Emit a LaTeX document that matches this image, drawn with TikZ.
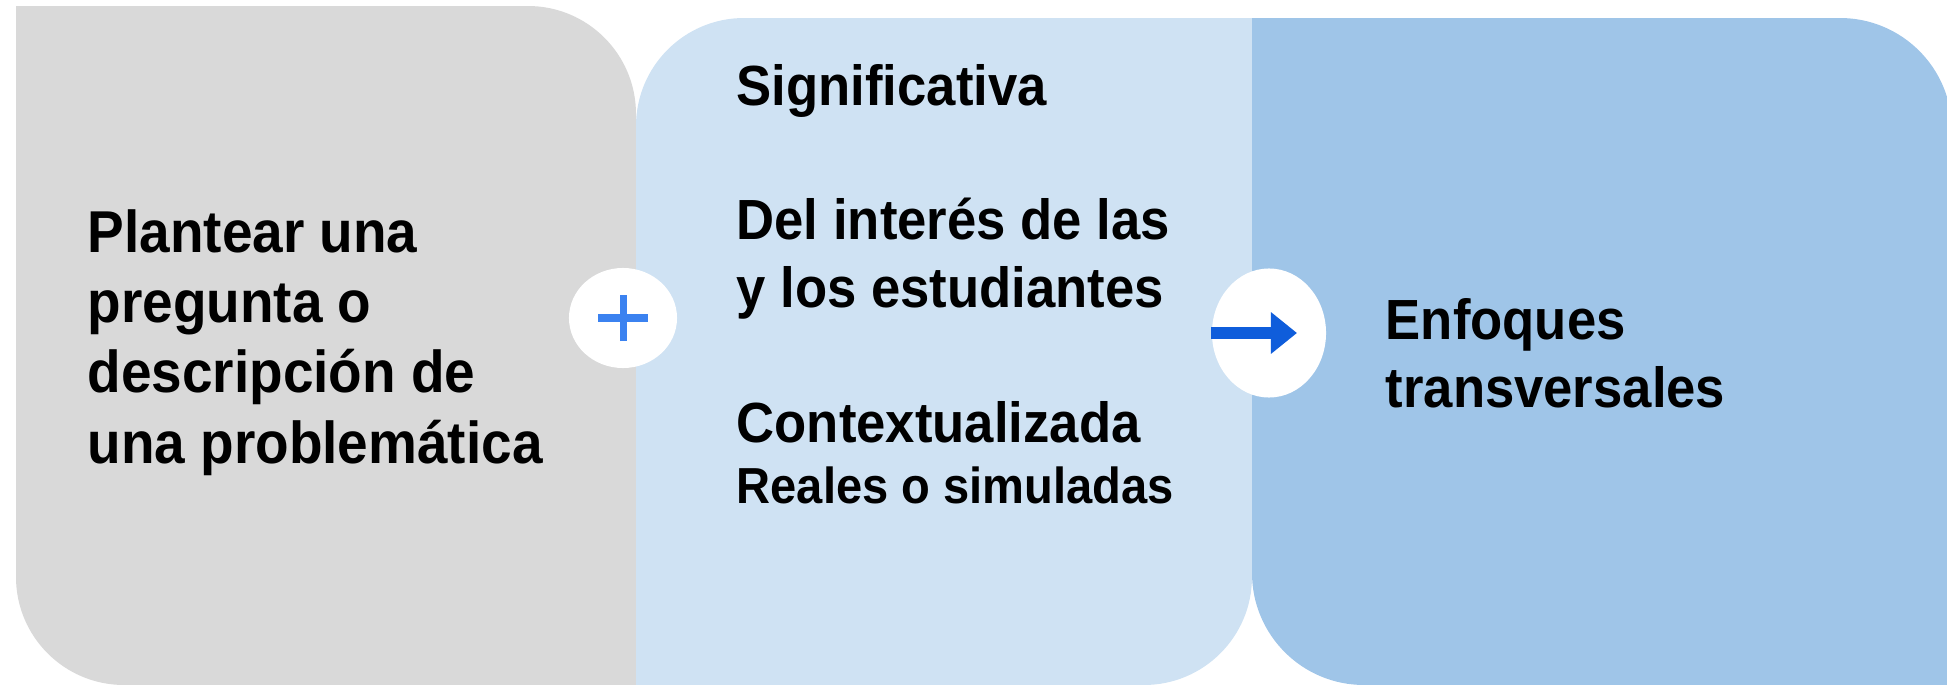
\documentclass[tikz,border=0pt]{standalone}
\usepackage{fontspec}
\setmainfont{Liberation Sans}[FakeStretch=0.93]
\usetikzlibrary{shapes.geometric,arrows.meta,calc}

\definecolor{boxgray}{HTML}{D9D9D9}
\definecolor{boxlight}{HTML}{CFE2F3}
\definecolor{boxdark}{HTML}{9FC5E8}
\definecolor{plusblue}{HTML}{3B82F0}
\definecolor{arrowblue}{HTML}{0F5DDB}

\begin{document}
\begin{tikzpicture}[x=0.01cm, y=0.01cm,
  every node/.style={inner sep=0pt},
  itemtext/.style={anchor=base west, align=left, font=\bfseries\fontsize{16.1}{19.1}\selectfont},
  bigtext/.style={itemtext, font=\bfseries\fontsize{16.8}{20}\selectfont},
  smalltext/.style={itemtext, font=\bfseries\fontsize{14.4}{17}\selectfont},
  badge/.style={ellipse, fill=white, draw=none},
  plusline/.style={plusblue, line width=0.07cm},
  arrowline/.style={arrowblue, line width=0.12cm, -{Triangle[length=0.26cm, width=0.4cm]}}]

\useasboundingbox (0,0) rectangle (1947,684);
\clip (0,0) rectangle (1947,684);

% Three panels
\fill[boxgray] (16,678) -- (528,678) arc[start angle=90, end angle=0, radius=108]
  -- (636,-1) -- (124,-1) arc[start angle=270, end angle=180, radius=108] -- cycle;
\fill[boxlight] (636,-1) -- (636,558) arc[start angle=180, end angle=90, radius=108]
  -- (1252,666) -- (1252,107) arc[start angle=0, end angle=-90, radius=108] -- cycle;
\fill[boxdark] (1252,666) -- (1840,666) arc[start angle=90, end angle=0, radius=112]
  -- (1952,-1) -- (1364,-1) arc[start angle=270, end angle=180, radius=112] -- cycle;

% Texts (base = last line)
\node[bigtext] (question) at (87,221) {Plantear una\\pregunta o\\descripción de\\una problemática};
\node[itemtext] (signif) at (736,578) {Significativa};
\node[itemtext] (interest) at (736,377) {Del interés de las\\y los estudiantes};
\node[itemtext] (context) at (736,242) {Contextualizada};
\node[smalltext] (real) at (736,181) {Reales o simuladas};
\node[itemtext] (focus) at (1385,277) {Enfoques\\transversales};

% Plus badge
\node[badge, minimum width=1.08cm, minimum height=1.0cm] (plus) at (623,366) {};
\draw[plusline] ($(plus.center)+(-25,0)$) -- ($(plus.center)+(25,0)$);
\draw[plusline] ($(plus.center)+(0,-23)$) -- ($(plus.center)+(0,23)$);

% Arrow badge
\node[badge, minimum width=1.14cm, minimum height=1.29cm] (arrow) at (1269,351) {};
\coordinate (tip) at ($(arrow.center)+(28,0)$);
\draw[arrowline] (arrow.west) -- (tip);

\end{tikzpicture}
\end{document}
